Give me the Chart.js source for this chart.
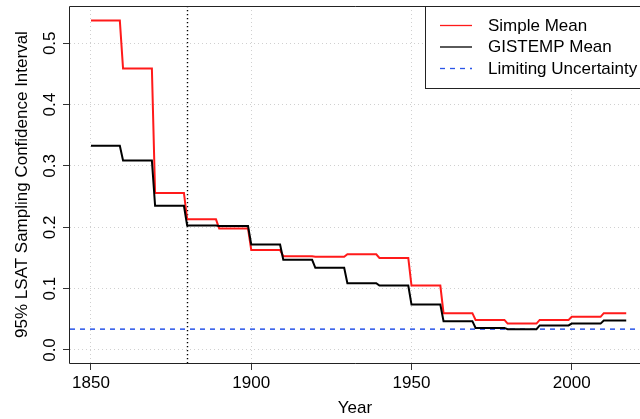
<!DOCTYPE html>
<html>
<head>
<meta charset="utf-8">
<script src="https://cdn.jsdelivr.net/npm/chart.js@4/dist/chart.umd.min.js"></script>
<style>
  html, body { margin: 0; padding: 0; background: #fff; }
  #wrap { width: 640px; height: 419px; }
</style>
</head>
<body>
<div id="wrap"><canvas id="ciChart"></canvas></div>
<script>
// Each value holds for one block of years, from the start year to 9 years later
const decadeStarts = [1850, 1860, 1870, 1880, 1890, 1900, 1910, 1920, 1930, 1940, 1950, 1960, 1970, 1980, 1990, 2000, 2010];
const lastYear = 2017;
const simpleMean  = [0.537, 0.459, 0.256, 0.213, 0.198, 0.163, 0.153, 0.152, 0.156, 0.150, 0.105, 0.060, 0.049, 0.043, 0.049, 0.054, 0.060];
const gistempMean = [0.333, 0.309, 0.235, 0.203, 0.202, 0.172, 0.147, 0.134, 0.109, 0.105, 0.074, 0.047, 0.036, 0.034, 0.040, 0.043, 0.048];
const limitingUncertainty = 0.034;
const markerYear = 1880;
const yearTicks = [1850, 1900, 1950, 2000];
const ciTicks = [0.0, 0.1, 0.2, 0.3, 0.4, 0.5];

const xMin = 1843.45, xMax = 2021.3;
const yMin = -0.0212, yMax = 0.5608;

const FONT = "'Liberation Sans', Arial, sans-serif";
Chart.defaults.font.family = FONT;
Chart.defaults.color = '#000';

// turn the block values into step points
function stepPoints(values) {
    let pts = [];
    decadeStarts.forEach((start, i) => {
        pts.push({ x: start, y: values[i] });
        pts.push({ x: Math.min(start + 9, lastYear), y: values[i] });
    });
    return pts;
}

// box round the plot, dotted marker year, rotated y labels
const framePlugin = {
    id: 'frame',
    beforeDatasetsDraw(chart) {
        const { ctx, chartArea: a, scales: { x } } = chart;
        const px = Math.round(x.getPixelForValue(markerYear)) + 0.5;
        ctx.save();
        ctx.strokeStyle = '#000';
        ctx.lineWidth = 1.4;
        ctx.setLineDash([1.2, 2.8]);
        ctx.beginPath();
        ctx.moveTo(px, a.top);
        ctx.lineTo(px, a.bottom);
        ctx.stroke();
        ctx.restore();
    },
    afterDraw(chart) {
        const { ctx, chartArea: a, scales: { y } } = chart;
        ctx.save();
        ctx.strokeStyle = '#222';
        ctx.lineWidth = 1;
        ctx.beginPath();
        ctx.moveTo(a.right + 20, a.top + 0.5);
        ctx.lineTo(a.left - 0.5, a.top + 0.5);
        ctx.lineTo(a.left - 0.5, a.bottom + 0.5);
        ctx.lineTo(a.right + 20, a.bottom + 0.5);
        ctx.stroke();

        ctx.font = '17px ' + FONT;
        ctx.fillStyle = '#000';
        ctx.textAlign = 'center';
        ctx.textBaseline = 'alphabetic';
        y.ticks.forEach(t => {
            ctx.save();
            ctx.translate(a.left - 15, y.getPixelForValue(t.value));
            ctx.rotate(-Math.PI / 2);
            ctx.fillText(t.value.toFixed(1), 0, 0);
            ctx.restore();
        });

        // legend in the top right corner
        const lx = 425.5, ly = a.top + 0.5;
        ctx.fillStyle = '#fff';
        ctx.fillRect(lx, ly, 300, 82);
        ctx.strokeStyle = '#222';
        ctx.strokeRect(lx, ly, 300, 82);
        const rows = [25, 46.5, 68];
        chart.data.datasets.forEach((ds, i) => {
            ctx.strokeStyle = ds.borderColor;
            ctx.lineWidth = 1.3;
            ctx.setLineDash(ds.borderDash || []);
            ctx.beginPath();
            ctx.moveTo(440, rows[i] + 0.5);
            ctx.lineTo(472, rows[i] + 0.5);
            ctx.stroke();
            ctx.setLineDash([]);
            ctx.fillStyle = '#000';
            ctx.textAlign = 'left';
            ctx.textBaseline = 'middle';
            ctx.fillText(ds.label, 488, rows[i] + 1);
        });
        ctx.restore();
    }
};

new Chart("ciChart", {
    type: "line",
    data: {
        datasets: [{
            label: "Simple Mean",
            data: stepPoints(simpleMean),
            borderColor: "#ff1a1a",
            borderWidth: 2,
            pointRadius: 0,
            order: 2
        }, {
            label: "GISTEMP Mean",
            data: stepPoints(gistempMean),
            borderColor: "#000000",
            borderWidth: 2,
            pointRadius: 0,
            order: 1
        }, {
            label: "Limiting Uncertainty",
            data: [{ x: xMin, y: limitingUncertainty }, { x: xMax, y: limitingUncertainty }],
            borderColor: "#2a55e8",
            borderWidth: 1.5,
            borderDash: [5, 5],
            pointRadius: 0,
            order: 3
        }]
    },
    options: {
        animation: false,
        responsive: true,
        maintainAspectRatio: false,
        layout: { padding: { top: 6, left: 0, right: 0, bottom: 0 } },
        plugins: {
            legend: { display: false },
            tooltip: { enabled: false }
        },
        scales: {
            x: {
                type: 'linear',
                min: xMin,
                max: xMax,
                afterBuildTicks: s => { s.ticks = yearTicks.map(v => ({ value: v })); },
                afterFit: s => { s.height = 56; },
                ticks: {
                    font: { size: 17 },
                    color: '#000',
                    padding: 3,
                    maxRotation: 0,
                    autoSkip: false,
                    callback: v => String(v)
                },
                grid: {
                    color: '#d0d0d0',
                    lineWidth: 1,
                    tickColor: '#333',
                    tickLength: 7,
                    tickWidth: 1,
                    tickBorderDash: []
                },
                border: { display: false, dash: [1, 3] },
                title: {
                    display: true,
                    text: 'Year',
                    font: { size: 17 },
                    color: '#000',
                    padding: { top: 0, bottom: 0 }
                }
            },
            y: {
                type: 'linear',
                min: yMin,
                max: yMax,
                afterBuildTicks: s => { s.ticks = ciTicks.map(v => ({ value: v })); },
                afterFit: s => { s.width = 70; },
                ticks: { display: false },
                grid: {
                    color: '#d0d0d0',
                    lineWidth: 1,
                    tickColor: '#333',
                    tickLength: 7,
                    tickWidth: 1,
                    tickBorderDash: []
                },
                border: { display: false, dash: [1, 3] },
                title: {
                    display: true,
                    text: '95% LSAT Sampling Confidence Interval',
                    font: { size: 17 },
                    color: '#000',
                    padding: { top: 12, bottom: 0 }
                }
            }
        }
    },
    plugins: [framePlugin]
});
</script>
</body>
</html>
